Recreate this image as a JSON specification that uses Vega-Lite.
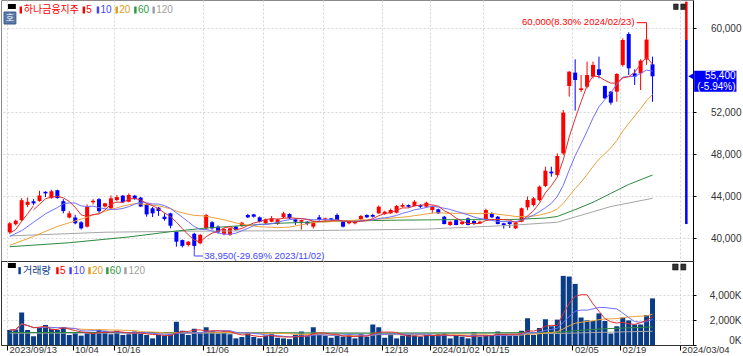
{
"$schema":"https://vega.github.io/schema/vega-lite/v6.json",
"padding":{"left":0,"top":-1,"right":0,"bottom":0},
"background":"#ffffff",
"spacing":0,
"bounds":"flush",
"config":{"view":{"stroke":"#8a8a8a"},"axis":{"gridColor":"#d6d6d6","gridDash":[2,2],"gridWidth":1,"labelFont":"Liberation Sans, sans-serif","labelFontSize":10,"labelColor":"#333333","domainColor":"#000000","tickColor":"#000000"},"text":{"font":"Liberation Sans, sans-serif","fontSize":10}},
"datasets":{"px":[
{"i":0,"d":"2023-09-13","o":40550,"h":41500,"l":40400,"c":41400,"v":1200000,"m60":39170,"m120":40200,"vm60":1000000,"vm120":950000,"e5":40450,"e10":40150,"e20":39300},
{"i":1,"d":"2023-09-14","o":41300,"h":41750,"l":41200,"c":41650,"v":1250000,"e5":40800},
{"i":2,"d":"2023-09-15","o":41700,"h":43800,"l":41600,"c":43600,"v":2600000,"e5":41600,"e10":40700},
{"i":3,"d":"2023-09-18","o":43150,"h":43850,"l":42950,"c":43450,"v":1200000,"e5":42300},
{"i":4,"d":"2023-09-19","o":43500,"h":43700,"l":43150,"c":43300,"v":700000,"e5":43080,"e10":41500,"e20":40150},
{"i":5,"d":"2023-09-20","o":43520,"h":44500,"l":43450,"c":44050,"v":1400000},
{"i":6,"d":"2023-09-21","o":44400,"h":44450,"l":43900,"c":44250,"v":1600000,"e10":42300},
{"i":7,"d":"2023-09-22","o":43800,"h":44600,"l":43750,"c":44450,"v":1300000},
{"i":8,"d":"2023-09-25","o":44550,"h":44600,"l":43750,"c":43800,"v":1200000,"e10":42900,"e20":41100},
{"i":9,"d":"2023-09-26","o":43500,"h":43700,"l":42350,"c":42570,"v":1450000,"e10":43252},
{"i":10,"d":"2023-09-27","o":41950,"h":42570,"l":41870,"c":42350,"v":800000,"m60":39550},
{"i":11,"d":"2023-10-04","o":41950,"h":42200,"l":41300,"c":41400,"v":1030000},
{"i":12,"d":"2023-10-05","o":41500,"h":41600,"l":40800,"c":40920,"v":750000,"e20":41800},
{"i":13,"d":"2023-10-06","o":41080,"h":43200,"l":41000,"c":42980,"v":950000},
{"i":14,"d":"2023-10-10","o":43400,"h":43700,"l":43200,"c":43550,"v":1000000},
{"i":15,"d":"2023-10-11","o":43700,"h":43800,"l":42300,"c":42560,"v":1220000},
{"i":16,"d":"2023-10-12","o":43000,"h":43350,"l":42900,"c":43300,"v":1140000,"m120":40550,"e20":42550},
{"i":17,"d":"2023-10-13","o":42830,"h":44050,"l":42700,"c":43780,"v":860000},
{"i":18,"d":"2023-10-16","o":43620,"h":44100,"l":43500,"c":43900,"v":1140000},
{"i":19,"d":"2023-10-17","o":44030,"h":44100,"l":43350,"c":43400,"v":800000,"e20":43033},
{"i":20,"d":"2023-10-18","o":43460,"h":44250,"l":43400,"c":44100,"v":860000,"m60":40100},
{"i":21,"d":"2023-10-19","o":44030,"h":44100,"l":43650,"c":43700,"v":1080000},
{"i":22,"d":"2023-10-20","o":43850,"h":43900,"l":42950,"c":43000,"v":920000},
{"i":23,"d":"2023-10-23","o":43200,"h":43250,"l":42030,"c":42250,"v":800000},
{"i":24,"d":"2023-10-24","o":42830,"h":42950,"l":42000,"c":42350,"v":530000},
{"i":25,"d":"2023-10-25","o":42890,"h":42950,"l":42100,"c":42570,"v":800000},
{"i":26,"d":"2023-10-26","o":42030,"h":42350,"l":41650,"c":41800,"v":750000},
{"i":27,"d":"2023-10-27","o":42350,"h":42400,"l":40920,"c":41170,"v":860000,"m60":40600},
{"i":28,"d":"2023-10-30","o":40600,"h":40700,"l":39170,"c":39650,"v":1860000},
{"i":29,"d":"2023-10-31","o":39800,"h":39850,"l":39100,"c":39250,"v":1140000},
{"i":30,"d":"2023-11-01","o":39330,"h":39700,"l":39200,"c":39650,"v":800000,"m120":40650,"vm60":1000000},
{"i":31,"d":"2023-11-02","o":40400,"h":40500,"l":38950,"c":39250,"v":1300000},
{"i":32,"d":"2023-11-03","o":39500,"h":40400,"l":39400,"c":40300,"v":950000},
{"i":33,"d":"2023-11-06","o":40920,"h":42300,"l":40800,"c":42190,"v":1420000,"m60":40950},
{"i":34,"d":"2023-11-07","o":41500,"h":41600,"l":40800,"c":40920,"v":1140000},
{"i":35,"d":"2023-11-08","o":41080,"h":41200,"l":40450,"c":40540,"v":920000},
{"i":36,"d":"2023-11-09","o":40350,"h":40950,"l":40250,"c":40850,"v":1080000},
{"i":37,"d":"2023-11-10","o":40300,"h":41000,"l":40200,"c":40920,"v":860000,"m60":41100},
{"i":38,"d":"2023-11-13","o":41080,"h":41150,"l":40700,"c":40760,"v":530000},
{"i":39,"d":"2023-11-14","o":41140,"h":41550,"l":41050,"c":41460,"v":640000},
{"i":40,"d":"2023-11-15","o":42190,"h":42300,"l":41900,"c":41970,"v":1030000},
{"i":41,"d":"2023-11-16","o":42250,"h":42300,"l":41950,"c":42030,"v":640000},
{"i":42,"d":"2023-11-17","o":41970,"h":42050,"l":41500,"c":41550,"v":530000},
{"i":43,"d":"2023-11-20","o":41400,"h":41850,"l":41350,"c":41780,"v":750000},
{"i":44,"d":"2023-11-21","o":41550,"h":42100,"l":41500,"c":41870,"v":860000},
{"i":45,"d":"2023-11-22","o":41330,"h":41850,"l":41250,"c":41780,"v":580000,"m60":41400},
{"i":46,"d":"2023-11-23","o":41970,"h":42500,"l":41900,"c":42350,"v":530000},
{"i":47,"d":"2023-11-24","o":42290,"h":42350,"l":41800,"c":41870,"v":470000},
{"i":48,"d":"2023-11-27","o":41780,"h":41850,"l":41250,"c":41550,"v":800000},
{"i":49,"d":"2023-11-28","o":41550,"h":41750,"l":40800,"c":41710,"v":1080000},
{"i":50,"d":"2023-11-29","o":41550,"h":41600,"l":41200,"c":41330,"v":750000,"m120":40700,"vm120":950000},
{"i":51,"d":"2023-11-30","o":41080,"h":41600,"l":40900,"c":41550,"v":1420000},
{"i":52,"d":"2023-12-01","o":41970,"h":42200,"l":41650,"c":41710,"v":800000},
{"i":53,"d":"2023-12-04","o":41710,"h":41950,"l":41650,"c":41870,"v":750000},
{"i":54,"d":"2023-12-05","o":41870,"h":41900,"l":41650,"c":41710,"v":580000},
{"i":55,"d":"2023-12-06","o":42190,"h":42350,"l":41650,"c":41710,"v":750000,"m60":41600},
{"i":56,"d":"2023-12-07","o":41550,"h":41600,"l":41000,"c":41080,"v":670000},
{"i":57,"d":"2023-12-08","o":41400,"h":41600,"l":41300,"c":41550,"v":800000},
{"i":58,"d":"2023-12-11","o":41400,"h":41650,"l":41300,"c":41550,"v":530000},
{"i":59,"d":"2023-12-12","o":41780,"h":42200,"l":41700,"c":42100,"v":860000},
{"i":60,"d":"2023-12-13","o":42190,"h":42250,"l":41900,"c":41970,"v":670000,"vm60":950000},
{"i":61,"d":"2023-12-14","o":42190,"h":42300,"l":41950,"c":42030,"v":1640000},
{"i":62,"d":"2023-12-15","o":42350,"h":43100,"l":42300,"c":42980,"v":1420000},
{"i":63,"d":"2023-12-18","o":42290,"h":42600,"l":42200,"c":42500,"v":580000},
{"i":64,"d":"2023-12-19","o":42350,"h":42800,"l":42300,"c":42670,"v":860000},
{"i":65,"d":"2023-12-20","o":42410,"h":43150,"l":42350,"c":43050,"v":530000,"m60":41700},
{"i":66,"d":"2023-12-21","o":42980,"h":43300,"l":42900,"c":43140,"v":750000},
{"i":67,"d":"2023-12-22","o":43140,"h":43200,"l":42900,"c":42980,"v":800000},
{"i":68,"d":"2023-12-26","o":43050,"h":43600,"l":43000,"c":43460,"v":750000},
{"i":69,"d":"2023-12-27","o":43140,"h":43200,"l":42850,"c":42980,"v":670000},
{"i":70,"d":"2023-12-28","o":42980,"h":43450,"l":42900,"c":43360,"v":800000,"m120":40850},
{"i":71,"d":"2024-01-02","o":42670,"h":43100,"l":42350,"c":43000,"v":750000},
{"i":72,"d":"2024-01-03","o":42730,"h":42800,"l":42300,"c":42350,"v":860000},
{"i":73,"d":"2024-01-04","o":42030,"h":42100,"l":41300,"c":41330,"v":950000},
{"i":74,"d":"2024-01-05","o":41240,"h":41600,"l":41150,"c":41550,"v":530000},
{"i":75,"d":"2024-01-08","o":41710,"h":41750,"l":41200,"c":41240,"v":750000,"m60":41750},
{"i":76,"d":"2024-01-09","o":41330,"h":41600,"l":41250,"c":41550,"v":670000},
{"i":77,"d":"2024-01-10","o":41870,"h":41950,"l":41200,"c":41240,"v":530000},
{"i":78,"d":"2024-01-11","o":41620,"h":41700,"l":41250,"c":41330,"v":1030000},
{"i":79,"d":"2024-01-12","o":41400,"h":41650,"l":41350,"c":41550,"v":670000},
{"i":80,"d":"2024-01-15","o":41710,"h":42800,"l":41650,"c":42670,"v":750000},
{"i":81,"d":"2024-01-16","o":42350,"h":42450,"l":41900,"c":41970,"v":800000},
{"i":82,"d":"2024-01-17","o":42030,"h":42100,"l":41300,"c":41330,"v":1080000},
{"i":83,"d":"2024-01-18","o":41400,"h":41450,"l":40900,"c":41240,"v":860000},
{"i":84,"d":"2024-01-19","o":41550,"h":41600,"l":40950,"c":41330,"v":750000,"m60":41750,"m120":41200},
{"i":85,"d":"2024-01-22","o":40920,"h":41550,"l":40850,"c":41430,"v":750000},
{"i":86,"d":"2024-01-23","o":41550,"h":42900,"l":41500,"c":42830,"v":1140000},
{"i":87,"d":"2024-01-24","o":42920,"h":43950,"l":42650,"c":43620,"v":2140000},
{"i":88,"d":"2024-01-25","o":43140,"h":43900,"l":43000,"c":43780,"v":800000},
{"i":89,"d":"2024-01-26","o":43620,"h":45000,"l":43500,"c":44890,"v":1360000},
{"i":90,"d":"2024-01-29","o":44950,"h":46790,"l":44850,"c":46410,"v":2060000,"m60":41900},
{"i":91,"d":"2024-01-30","o":46320,"h":46790,"l":45840,"c":46160,"v":1500000},
{"i":92,"d":"2024-01-31","o":46000,"h":48060,"l":45900,"c":47810,"v":2030000,"m60":42050,"m120":41500,"vm60":1000000,"vm120":920000},
{"i":93,"d":"2024-02-01","o":48060,"h":52190,"l":47900,"c":51940,"v":5530000},
{"i":94,"d":"2024-02-02","o":54480,"h":55900,"l":53460,"c":55840,"v":5480000},
{"i":95,"d":"2024-02-05","o":55750,"h":57020,"l":52130,"c":55050,"v":4890000,"m60":42700,"m120":42000,"vm60":1150000},
{"i":96,"d":"2024-02-06","o":54090,"h":55520,"l":53900,"c":54250,"v":2200000},
{"i":97,"d":"2024-02-07","o":54410,"h":56800,"l":54250,"c":55520,"v":1970000},
{"i":98,"d":"2024-02-08","o":55370,"h":56800,"l":55200,"c":56480,"v":1920000,"m60":43400},
{"i":99,"d":"2024-02-13","o":56070,"h":57270,"l":55200,"c":55520,"v":2530000},
{"i":100,"d":"2024-02-14","o":54480,"h":54500,"l":53250,"c":53300,"v":1920000,"vm60":1300000,"vm120":1020000},
{"i":101,"d":"2024-02-15","o":53940,"h":54000,"l":52700,"c":52890,"v":920000,"m60":44250,"m120":43000},
{"i":102,"d":"2024-02-16","o":53940,"h":55700,"l":52980,"c":55620,"v":1500000},
{"i":103,"d":"2024-02-19","o":56480,"h":59020,"l":56320,"c":58860,"v":2200000},
{"i":104,"d":"2024-02-20","o":59430,"h":59600,"l":55520,"c":56160,"v":1970000,"m60":45100},
{"i":105,"d":"2024-02-21","o":55680,"h":56070,"l":54570,"c":55370,"v":1640000},
{"i":106,"d":"2024-02-22","o":55680,"h":57020,"l":54090,"c":56890,"v":1640000},
{"i":107,"d":"2024-02-23","o":57000,"h":60000,"l":56500,"c":58900,"v":2390000},
{"i":108,"d":"2024-02-26","o":56540,"h":57270,"l":52980,"c":55400,"v":3730000,"m60":46000,"m120":43780,"vm60":1450000,"vm120":1100000}
]},
"vconcat":[
{
"width":692,"height":261,
"data":{"name":"px"},
"transform":[
{"window":[{"op":"mean","field":"c","as":"m5"}],"frame":[-4,0],"sort":[{"field":"i"}]},
{"window":[{"op":"mean","field":"c","as":"m10"}],"frame":[-9,0],"sort":[{"field":"i"}]},
{"window":[{"op":"mean","field":"c","as":"m20"}],"frame":[-19,0],"sort":[{"field":"i"}]}
],
"layer":[
{"mark":{"type":"rule","strokeWidth":1},
 "encoding":{
  "x":{"field":"i","type":"quantitative","scale":{"domain":[-0.63,113.96],"nice":false,"zero":false},"axis":{"orient":"bottom","values":[-0.45,10.55,17.55,32.55,42.55,52.55,62.55,70.55,79.55,94.55,102.55,112.55],"grid":true,"labels":false,"ticks":false,"domain":true,"title":null}},
  "y":{"field":"l","type":"quantitative","scale":{"domain":[37810,62667],"nice":false,"zero":false},"axis":{"orient":"right","values":[40000,44000,48000,52000,60000],"labelExpr":"format(datum.value, ',')","grid":true,"tickSize":3,"labelAlign":"right","labelPadding":45,"labelOverlap":false,"labelFlush":false,"title":null}},
  "y2":{"field":"h"},
  "color":{"condition":{"test":"datum.c >= datum.o","value":"#ff0000"},"value":"#0000ff"}}},
{"mark":{"type":"bar","size":4},
 "encoding":{
  "x":{"field":"i","type":"quantitative","scale":{"domain":[-0.63,113.96],"nice":false,"zero":false}},
  "y":{"field":"o","type":"quantitative","scale":{"domain":[37810,62667],"nice":false,"zero":false}},
  "y2":{"field":"c"},
  "color":{"condition":{"test":"datum.c >= datum.o","value":"#ff0000"},"value":"#0000ff"}}},
{"transform":[{"filter":"isValid(datum.m120)"}],"mark":{"type":"line","color":"#a6a6a6","strokeWidth":1},
 "encoding":{"x":{"field":"i","type":"quantitative","scale":{"domain":[-0.63,113.96],"nice":false,"zero":false}},"y":{"field":"m120","type":"quantitative","scale":{"domain":[37810,62667],"nice":false,"zero":false}}}},
{"transform":[{"filter":"isValid(datum.m60)"}],"mark":{"type":"line","color":"#2e8a40","strokeWidth":1},
 "encoding":{"x":{"field":"i","type":"quantitative","scale":{"domain":[-0.63,113.96],"nice":false,"zero":false}},"y":{"field":"m60","type":"quantitative","scale":{"domain":[37810,62667],"nice":false,"zero":false}}}},
{"transform":[{"filter":"isValid(datum.e20)"}],"mark":{"type":"line","color":"#eba23a","strokeWidth":1},
 "encoding":{"x":{"field":"i","type":"quantitative","scale":{"domain":[-0.63,113.96],"nice":false,"zero":false}},"y":{"field":"e20","type":"quantitative","scale":{"domain":[37810,62667],"nice":false,"zero":false}}}},
{"transform":[{"filter":"datum.i >= 19"}],"mark":{"type":"line","color":"#eba23a","strokeWidth":1},
 "encoding":{"x":{"field":"i","type":"quantitative","scale":{"domain":[-0.63,113.96],"nice":false,"zero":false}},"y":{"field":"m20","type":"quantitative","scale":{"domain":[37810,62667],"nice":false,"zero":false}}}},
{"transform":[{"filter":"isValid(datum.e10)"}],"mark":{"type":"line","color":"#7070ff","strokeWidth":1},
 "encoding":{"x":{"field":"i","type":"quantitative","scale":{"domain":[-0.63,113.96],"nice":false,"zero":false}},"y":{"field":"e10","type":"quantitative","scale":{"domain":[37810,62667],"nice":false,"zero":false}}}},
{"transform":[{"filter":"datum.i >= 9"}],"mark":{"type":"line","color":"#7070ff","strokeWidth":1},
 "encoding":{"x":{"field":"i","type":"quantitative","scale":{"domain":[-0.63,113.96],"nice":false,"zero":false}},"y":{"field":"m10","type":"quantitative","scale":{"domain":[37810,62667],"nice":false,"zero":false}}}},
{"transform":[{"filter":"isValid(datum.e5)"}],"mark":{"type":"line","color":"#e03030","strokeWidth":1},
 "encoding":{"x":{"field":"i","type":"quantitative","scale":{"domain":[-0.63,113.96],"nice":false,"zero":false}},"y":{"field":"e5","type":"quantitative","scale":{"domain":[37810,62667],"nice":false,"zero":false}}}},
{"transform":[{"filter":"datum.i >= 4"}],"mark":{"type":"line","color":"#e03030","strokeWidth":1},
 "encoding":{"x":{"field":"i","type":"quantitative","scale":{"domain":[-0.63,113.96],"nice":false,"zero":false}},"y":{"field":"m5","type":"quantitative","scale":{"domain":[37810,62667],"nice":false,"zero":false}}}},
{"data":{"values":[{"k":"up"}]},"mark":{"type":"rule","color":"#ff0000","strokeWidth":2.5},
 "encoding":{"x":{"datum":113.68,"type":"quantitative","scale":{"domain":[-0.63,113.96],"nice":false,"zero":false}},"y":{"datum":62510,"type":"quantitative","scale":{"domain":[37810,62667],"nice":false,"zero":false}},"y2":{"datum":58860}}},
{"data":{"values":[{"k":"down"}]},"mark":{"type":"rule","color":"#0000ff","strokeWidth":2.5},
 "encoding":{"x":{"datum":113.68,"type":"quantitative","scale":{"domain":[-0.63,113.96],"nice":false,"zero":false}},"y":{"datum":58860,"type":"quantitative","scale":{"domain":[37810,62667],"nice":false,"zero":false}},"y2":{"datum":41330}}},
{"data":{"values":[{"t":"60,000(8.30% 2024/02/23)"}]},
 "layer":[
  {"mark":{"type":"text","align":"right","baseline":"middle","dx":-12,"dy":-6.5,"fontSize":9.5,"color":"#ff0000"},
   "encoding":{"x":{"datum":107,"type":"quantitative","scale":{"domain":[-0.63,113.96],"nice":false,"zero":false}},"y":{"datum":60000,"type":"quantitative","scale":{"domain":[37810,62667],"nice":false,"zero":false}},"text":{"field":"t"}}},
  {"mark":{"type":"rule","color":"#ff0000","strokeWidth":1},
   "encoding":{"x":{"datum":105.35,"type":"quantitative","scale":{"domain":[-0.63,113.96],"nice":false,"zero":false}},"x2":{"datum":107},"y":{"datum":60505,"type":"quantitative","scale":{"domain":[37810,62667],"nice":false,"zero":false}}}},
  {"mark":{"type":"rule","color":"#ff0000","strokeWidth":1},
   "encoding":{"x":{"datum":107,"type":"quantitative","scale":{"domain":[-0.63,113.96],"nice":false,"zero":false}},"y":{"datum":60505,"type":"quantitative","scale":{"domain":[37810,62667],"nice":false,"zero":false}},"y2":{"datum":60000}}}
 ]},
{"data":{"values":[{"t":"38,950(-29.69% 2023/11/02)"}]},
 "layer":[
  {"mark":{"type":"text","align":"left","baseline":"middle","dx":10,"dy":7,"fontSize":9.5,"color":"#4646ff"},
   "encoding":{"x":{"datum":31,"type":"quantitative","scale":{"domain":[-0.63,113.96],"nice":false,"zero":false}},"y":{"datum":38950,"type":"quantitative","scale":{"domain":[37810,62667],"nice":false,"zero":false}},"text":{"field":"t"}}},
  {"mark":{"type":"rule","color":"#4646ff","strokeWidth":1},
   "encoding":{"x":{"datum":31,"type":"quantitative","scale":{"domain":[-0.63,113.96],"nice":false,"zero":false}},"x2":{"datum":32.5},"y":{"datum":38286,"type":"quantitative","scale":{"domain":[37810,62667],"nice":false,"zero":false}}}},
  {"mark":{"type":"rule","color":"#4646ff","strokeWidth":1},
   "encoding":{"x":{"datum":31,"type":"quantitative","scale":{"domain":[-0.63,113.96],"nice":false,"zero":false}},"y":{"datum":38950,"type":"quantitative","scale":{"domain":[37810,62667],"nice":false,"zero":false}},"y2":{"datum":38286}}}
 ]},
{"data":{"values":[{"t":"55,400","t2":"(-5.94%)"}]},
 "layer":[
  {"mark":{"type":"point","shape":"triangle-left","filled":true,"size":40,"color":"#0000ff","opacity":1},
   "encoding":{"x":{"datum":114.46,"type":"quantitative","scale":{"domain":[-0.63,113.96],"nice":false,"zero":false}},"y":{"datum":55400,"type":"quantitative","scale":{"domain":[37810,62667],"nice":false,"zero":false}}}},
  {"mark":{"type":"rect","color":"#0000ff"},
   "encoding":{"x":{"datum":115.0,"type":"quantitative","scale":{"domain":[-0.63,113.96],"nice":false,"zero":false}},"x2":{"datum":122.1},"y":{"datum":55933,"type":"quantitative","scale":{"domain":[37810,62667],"nice":false,"zero":false}},"y2":{"datum":53933}}},
  {"mark":{"type":"text","align":"right","baseline":"middle","color":"#ffffff","fontSize":10},
   "encoding":{"x":{"datum":121.95,"type":"quantitative","scale":{"domain":[-0.63,113.96],"nice":false,"zero":false}},"y":{"datum":55400,"type":"quantitative","scale":{"domain":[37810,62667],"nice":false,"zero":false}},"text":{"field":"t"}}},
  {"mark":{"type":"text","align":"right","baseline":"middle","dy":11,"color":"#ffffff","fontSize":10},
   "encoding":{"x":{"datum":121.95,"type":"quantitative","scale":{"domain":[-0.63,113.96],"nice":false,"zero":false}},"y":{"datum":55400,"type":"quantitative","scale":{"domain":[37810,62667],"nice":false,"zero":false}},"text":{"field":"t2"}}}
 ]},
{"data":{"values":[{"t":"호"}]},
 "layer":[
  {"mark":{"type":"rect","color":"#000000"},
   "encoding":{"x":{"datum":-0.298,"type":"quantitative","scale":{"domain":[-0.63,113.96],"nice":false,"zero":false}},"x2":{"datum":1.027},"y":{"datum":62286,"type":"quantitative","scale":{"domain":[37810,62667],"nice":false,"zero":false}},"y2":{"datum":61810}}},
  {"mark":{"type":"rect","fill":"#5b79a6","stroke":"#3d5a86","strokeWidth":1},
   "encoding":{"x":{"datum":-0.96,"type":"quantitative","scale":{"domain":[-0.63,113.96],"nice":false,"zero":false}},"x2":{"datum":1.027},"y":{"datum":61524,"type":"quantitative","scale":{"domain":[37810,62667],"nice":false,"zero":false}},"y2":{"datum":60381}}},
  {"mark":{"type":"text","align":"center","baseline":"middle","color":"#ffffff","font":"Noto Sans CJK KR","fontSize":9},
   "encoding":{"x":{"datum":0.03,"type":"quantitative","scale":{"domain":[-0.63,113.96],"nice":false,"zero":false}},"y":{"datum":60952,"type":"quantitative","scale":{"domain":[37810,62667],"nice":false,"zero":false}},"text":{"field":"t"}}},
  {"mark":{"type":"rect","fill":"#333333","stroke":"#000000","strokeWidth":0.5},
   "encoding":{"x":{"datum":111.53,"type":"quantitative","scale":{"domain":[-0.63,113.96],"nice":false,"zero":false}},"x2":{"datum":112.31},"y":{"datum":62286,"type":"quantitative","scale":{"domain":[37810,62667],"nice":false,"zero":false}},"y2":{"datum":61762}}},
  {"mark":{"type":"rect","fill":"#333333","stroke":"#000000","strokeWidth":0.5},
   "encoding":{"x":{"datum":112.75,"type":"quantitative","scale":{"domain":[-0.63,113.96],"nice":false,"zero":false}},"x2":{"datum":113.5},"y":{"datum":62286,"type":"quantitative","scale":{"domain":[37810,62667],"nice":false,"zero":false}},"y2":{"datum":61762}}}
 ]},
{"data":{"values":[{"t":"하나금융지주"}]},
 "encoding":{"x":{"datum":1.855,"type":"quantitative","scale":{"domain":[-0.63,113.96],"nice":false,"zero":false}},"y":{"datum":61714,"type":"quantitative","scale":{"domain":[37810,62667],"nice":false,"zero":false}}},
 "layer":[
  {"mark":{"type":"point","shape":"M-0.35,-1L0.35,-1L0.35,1L-0.35,1Z","filled":true,"size":49,"opacity":1,"color":"#ff0000"}},
  {"mark":{"type":"text","align":"left","baseline":"middle","dx":3,"font":"Noto Sans CJK KR","fontSize":10,"color":"#ff0000"},"encoding":{"text":{"field":"t"}}}
 ]},
{"data":{"values":[{"t":"5"}]},
 "encoding":{"x":{"datum":12.45,"type":"quantitative","scale":{"domain":[-0.63,113.96],"nice":false,"zero":false}},"y":{"datum":61714,"type":"quantitative","scale":{"domain":[37810,62667],"nice":false,"zero":false}}},
 "layer":[
  {"mark":{"type":"point","shape":"M-0.35,-1L0.35,-1L0.35,1L-0.35,1Z","filled":true,"size":49,"opacity":1,"color":"#ff0000"}},
  {"mark":{"type":"text","align":"left","baseline":"middle","dx":2.5,"color":"#ff0000"},"encoding":{"text":{"field":"t"}}}
 ]},
{"data":{"values":[{"t":"10"}]},
 "encoding":{"x":{"datum":14.82,"type":"quantitative","scale":{"domain":[-0.63,113.96],"nice":false,"zero":false}},"y":{"datum":61714,"type":"quantitative","scale":{"domain":[37810,62667],"nice":false,"zero":false}}},
 "layer":[
  {"mark":{"type":"point","shape":"M-0.35,-1L0.35,-1L0.35,1L-0.35,1Z","filled":true,"size":49,"opacity":1,"color":"#4444ff"}},
  {"mark":{"type":"text","align":"left","baseline":"middle","dx":2.5,"color":"#4444ff"},"encoding":{"text":{"field":"t"}}}
 ]},
{"data":{"values":[{"t":"20"}]},
 "encoding":{"x":{"datum":17.97,"type":"quantitative","scale":{"domain":[-0.63,113.96],"nice":false,"zero":false}},"y":{"datum":61714,"type":"quantitative","scale":{"domain":[37810,62667],"nice":false,"zero":false}}},
 "layer":[
  {"mark":{"type":"point","shape":"M-0.35,-1L0.35,-1L0.35,1L-0.35,1Z","filled":true,"size":49,"opacity":1,"color":"#e39a22"}},
  {"mark":{"type":"text","align":"left","baseline":"middle","dx":2.5,"color":"#e39a22"},"encoding":{"text":{"field":"t"}}}
 ]},
{"data":{"values":[{"t":"60"}]},
 "encoding":{"x":{"datum":21.11,"type":"quantitative","scale":{"domain":[-0.63,113.96],"nice":false,"zero":false}},"y":{"datum":61714,"type":"quantitative","scale":{"domain":[37810,62667],"nice":false,"zero":false}}},
 "layer":[
  {"mark":{"type":"point","shape":"M-0.35,-1L0.35,-1L0.35,1L-0.35,1Z","filled":true,"size":49,"opacity":1,"color":"#2e9a46"}},
  {"mark":{"type":"text","align":"left","baseline":"middle","dx":2.5,"color":"#2e9a46"},"encoding":{"text":{"field":"t"}}}
 ]},
{"data":{"values":[{"t":"120"}]},
 "encoding":{"x":{"datum":24.18,"type":"quantitative","scale":{"domain":[-0.63,113.96],"nice":false,"zero":false}},"y":{"datum":61714,"type":"quantitative","scale":{"domain":[37810,62667],"nice":false,"zero":false}}},
 "layer":[
  {"mark":{"type":"point","shape":"M-0.35,-1L0.35,-1L0.35,1L-0.35,1Z","filled":true,"size":49,"opacity":1,"color":"#a0a0a0"}},
  {"mark":{"type":"text","align":"left","baseline":"middle","dx":2.5,"color":"#a0a0a0"},"encoding":{"text":{"field":"t"}}}
 ]}
]
},
{
"width":692,"height":84,
"view":{"stroke":"#333333"},
"data":{"name":"px"},
"transform":[
{"window":[{"op":"mean","field":"v","as":"vm5"}],"frame":[-4,0],"sort":[{"field":"i"}]},
{"window":[{"op":"mean","field":"v","as":"vm10"}],"frame":[-9,0],"sort":[{"field":"i"}]},
{"window":[{"op":"mean","field":"v","as":"vm20"}],"frame":[-19,0],"sort":[{"field":"i"}]}
],
"layer":[
{"mark":{"type":"bar","size":5,"color":"#0a3d85"},
 "encoding":{
  "x":{"field":"i","type":"quantitative","scale":{"domain":[-0.63,113.96],"nice":false,"zero":false},"axis":{"orient":"bottom","values":[-0.45,10.55,17.55,32.55,42.55,52.55,62.55,70.55,79.55,94.55,102.55,112.55],"labelExpr":"['2023/09/13','10/04','10/16','11/06','11/20','12/04','12/18','2024/01/02','01/15','02/05','02/19','2024/03/04'][indexof([0,11,18,33,43,53,63,71,80,95,103,113], round(datum.value + 0.45))]","grid":true,"ticks":true,"tickSize":5,"labelAlign":"left","labelBaseline":"top","labelPadding":-6,"labelOffset":2,"labelFontSize":9.5,"labelFlush":false,"labelOverlap":false,"domain":true,"domainColor":"#333333","title":null}},
  "y":{"field":"v","type":"quantitative","scale":{"domain":[0,6720000],"nice":false,"zero":false},"axis":{"orient":"right","values":[0,2000000,4000000],"labelExpr":"format(datum.value/1000, ',') + 'K'","grid":true,"tickSize":3,"labelAlign":"right","labelPadding":45,"labelFlush":true,"labelOverlap":false,"title":null}}}},
{"transform":[{"filter":"isValid(datum.vm120)"}],"mark":{"type":"line","color":"#a6a6a6","strokeWidth":1},
 "encoding":{"x":{"field":"i","type":"quantitative","scale":{"domain":[-0.63,113.96],"nice":false,"zero":false}},"y":{"field":"vm120","type":"quantitative","scale":{"domain":[0,6720000],"nice":false,"zero":false}}}},
{"transform":[{"filter":"isValid(datum.vm60)"}],"mark":{"type":"line","color":"#2e8a40","strokeWidth":1},
 "encoding":{"x":{"field":"i","type":"quantitative","scale":{"domain":[-0.63,113.96],"nice":false,"zero":false}},"y":{"field":"vm60","type":"quantitative","scale":{"domain":[0,6720000],"nice":false,"zero":false}}}},
{"mark":{"type":"line","color":"#eba23a","strokeWidth":1},
 "encoding":{"x":{"field":"i","type":"quantitative","scale":{"domain":[-0.63,113.96],"nice":false,"zero":false}},"y":{"field":"vm20","type":"quantitative","scale":{"domain":[0,6720000],"nice":false,"zero":false}}}},
{"mark":{"type":"line","color":"#7070ff","strokeWidth":1},
 "encoding":{"x":{"field":"i","type":"quantitative","scale":{"domain":[-0.63,113.96],"nice":false,"zero":false}},"y":{"field":"vm10","type":"quantitative","scale":{"domain":[0,6720000],"nice":false,"zero":false}}}},
{"mark":{"type":"line","color":"#e03030","strokeWidth":1},
 "encoding":{"x":{"field":"i","type":"quantitative","scale":{"domain":[-0.63,113.96],"nice":false,"zero":false}},"y":{"field":"vm5","type":"quantitative","scale":{"domain":[0,6720000],"nice":false,"zero":false}}}},
{"data":{"values":[{"k":"box"}]},
 "layer":[
  {"mark":{"type":"rect","color":"#000000"},
   "encoding":{"x":{"datum":-0.298,"type":"quantitative","scale":{"domain":[-0.63,113.96],"nice":false,"zero":false}},"x2":{"datum":1.027},"y":{"datum":6560000,"type":"quantitative","scale":{"domain":[0,6720000],"nice":false,"zero":false}},"y2":{"datum":6160000}}},
  {"mark":{"type":"rect","fill":"#333333","stroke":"#000000","strokeWidth":0.5},
   "encoding":{"x":{"datum":111.37,"type":"quantitative","scale":{"domain":[-0.63,113.96],"nice":false,"zero":false}},"x2":{"datum":112.3},"y":{"datum":6480000,"type":"quantitative","scale":{"domain":[0,6720000],"nice":false,"zero":false}},"y2":{"datum":6000000}}},
  {"mark":{"type":"rect","fill":"#333333","stroke":"#000000","strokeWidth":0.5},
   "encoding":{"x":{"datum":112.75,"type":"quantitative","scale":{"domain":[-0.63,113.96],"nice":false,"zero":false}},"x2":{"datum":113.6},"y":{"datum":6480000,"type":"quantitative","scale":{"domain":[0,6720000],"nice":false,"zero":false}},"y2":{"datum":6000000}}}
 ]},
{"data":{"values":[{"t":"거래량"}]},
 "encoding":{"x":{"datum":1.656,"type":"quantitative","scale":{"domain":[-0.63,113.96],"nice":false,"zero":false}},"y":{"datum":5944000,"type":"quantitative","scale":{"domain":[0,6720000],"nice":false,"zero":false}}},
 "layer":[
  {"mark":{"type":"point","shape":"M-0.35,-1L0.35,-1L0.35,1L-0.35,1Z","filled":true,"size":49,"opacity":1,"color":"#0a3d85"}},
  {"mark":{"type":"text","align":"left","baseline":"middle","dx":3.5,"font":"Noto Sans CJK KR","fontSize":10,"color":"#0a3d85"},"encoding":{"text":{"field":"t"}}}
 ]},
{"data":{"values":[{"t":"5"}]},
 "encoding":{"x":{"datum":8.01,"type":"quantitative","scale":{"domain":[-0.63,113.96],"nice":false,"zero":false}},"y":{"datum":5944000,"type":"quantitative","scale":{"domain":[0,6720000],"nice":false,"zero":false}}},
 "layer":[
  {"mark":{"type":"point","shape":"M-0.35,-1L0.35,-1L0.35,1L-0.35,1Z","filled":true,"size":49,"opacity":1,"color":"#ff0000"}},
  {"mark":{"type":"text","align":"left","baseline":"middle","dx":2.5,"color":"#ff0000"},"encoding":{"text":{"field":"t"}}}
 ]},
{"data":{"values":[{"t":"10"}]},
 "encoding":{"x":{"datum":10.22,"type":"quantitative","scale":{"domain":[-0.63,113.96],"nice":false,"zero":false}},"y":{"datum":5944000,"type":"quantitative","scale":{"domain":[0,6720000],"nice":false,"zero":false}}},
 "layer":[
  {"mark":{"type":"point","shape":"M-0.35,-1L0.35,-1L0.35,1L-0.35,1Z","filled":true,"size":49,"opacity":1,"color":"#4444ff"}},
  {"mark":{"type":"text","align":"left","baseline":"middle","dx":3,"color":"#4444ff"},"encoding":{"text":{"field":"t"}}}
 ]},
{"data":{"values":[{"t":"20"}]},
 "encoding":{"x":{"datum":13.4,"type":"quantitative","scale":{"domain":[-0.63,113.96],"nice":false,"zero":false}},"y":{"datum":5944000,"type":"quantitative","scale":{"domain":[0,6720000],"nice":false,"zero":false}}},
 "layer":[
  {"mark":{"type":"point","shape":"M-0.35,-1L0.35,-1L0.35,1L-0.35,1Z","filled":true,"size":49,"opacity":1,"color":"#e39a22"}},
  {"mark":{"type":"text","align":"left","baseline":"middle","dx":2.5,"color":"#e39a22"},"encoding":{"text":{"field":"t"}}}
 ]},
{"data":{"values":[{"t":"60"}]},
 "encoding":{"x":{"datum":16.4,"type":"quantitative","scale":{"domain":[-0.63,113.96],"nice":false,"zero":false}},"y":{"datum":5944000,"type":"quantitative","scale":{"domain":[0,6720000],"nice":false,"zero":false}}},
 "layer":[
  {"mark":{"type":"point","shape":"M-0.35,-1L0.35,-1L0.35,1L-0.35,1Z","filled":true,"size":49,"opacity":1,"color":"#2e9a46"}},
  {"mark":{"type":"text","align":"left","baseline":"middle","dx":2.5,"color":"#2e9a46"},"encoding":{"text":{"field":"t"}}}
 ]},
{"data":{"values":[{"t":"120"}]},
 "encoding":{"x":{"datum":19.44,"type":"quantitative","scale":{"domain":[-0.63,113.96],"nice":false,"zero":false}},"y":{"datum":5944000,"type":"quantitative","scale":{"domain":[0,6720000],"nice":false,"zero":false}}},
 "layer":[
  {"mark":{"type":"point","shape":"M-0.35,-1L0.35,-1L0.35,1L-0.35,1Z","filled":true,"size":49,"opacity":1,"color":"#a0a0a0"}},
  {"mark":{"type":"text","align":"left","baseline":"middle","dx":3,"color":"#a0a0a0"},"encoding":{"text":{"field":"t"}}}
 ]}
]
}
]
}
